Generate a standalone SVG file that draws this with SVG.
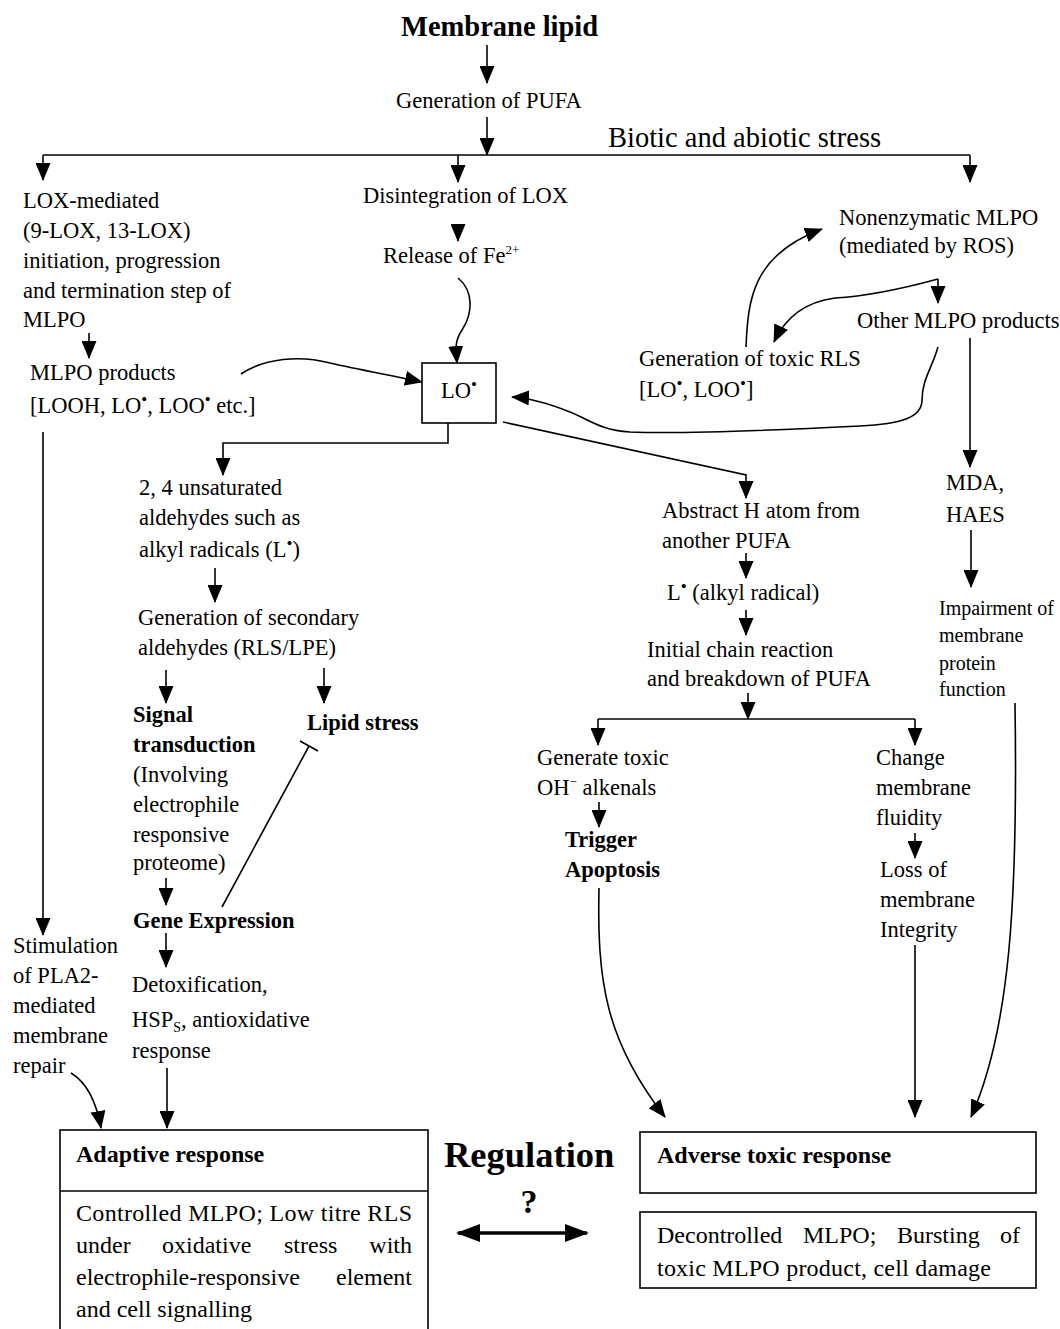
<svg xmlns="http://www.w3.org/2000/svg" width="1060" height="1329" viewBox="0 0 1060 1329">
<defs>
<marker id="ah" markerUnits="userSpaceOnUse" markerWidth="18" markerHeight="15" refX="17" refY="7.5" orient="auto"><path d="M0,0 L18,7.5 L0,15 z" fill="#000"/></marker>
<marker id="ahb" markerUnits="userSpaceOnUse" markerWidth="24" markerHeight="18" refX="22" refY="9" orient="auto-start-reverse"><path d="M0,0 L24,9 L0,18 z" fill="#000"/></marker>
<style>
text{font-family:"Liberation Serif","Times New Roman",serif;fill:#000}
.t{font-size:22.5px}
.b{font-weight:bold}
.s{font-size:20px}
.bx{font-size:24px}
.sup{font-size:13px}
.dot{font-size:17px}
.c{fill:none;stroke:#000;stroke-width:1.6}
.a{marker-end:url(#ah)}
.box{fill:#fff;stroke:#000;stroke-width:1.6}
</style>
</defs>
<rect width="1060" height="1329" fill="#fff"/>

<g id="connectors">
<path class="c a" d="M487,45 V83"/>
<path class="c a" d="M487,117 V155"/>
<path class="c" d="M43,155 H970"/>
<path class="c a" d="M43,155 V180"/>
<path class="c a" d="M458,155 V182"/>
<path class="c a" d="M970,155 V182"/>
<path class="c a" d="M458,224 V241"/>
<path class="c a" d="M458,278 C475,292 472,315 462,330 C454,342 456,350 457,363"/>
<path class="c a" d="M89,333 V358"/>
<path class="c a" d="M241,374 C265,358 300,355 330,363 C360,370 395,376 422,382"/>
<path class="c a" d="M43,432 V935"/>
<path class="c a" d="M448,423 V443 H223 V475"/>
<path class="c a" d="M503,422 L746,475 V498"/>
<path class="c a" d="M746,347 C748,300 752,255 822,229"/>
<path class="c a" d="M938,279 V303"/>
<path class="c a" d="M938,279 C905,288 870,296 835,298 C805,302 785,318 774,342"/>
<path class="c a" d="M970,338 V467"/>
<path class="c a" d="M938,347 C932,368 922,380 922,400 C922,418 900,424 860,426 C780,430 680,434 630,432 C600,430 590,420 570,412 C550,404 530,398 512,397"/>
<path class="c a" d="M215,568 V602"/>
<path class="c a" d="M166,670 V703"/>
<path class="c a" d="M324,668 V703"/>
<path class="c" d="M222,907 L309,746 M300,741 L318,751"/>
<path class="c a" d="M166,878 V905"/>
<path class="c a" d="M166,933 V967"/>
<path class="c a" d="M71,1073 C86,1082 96,1100 101,1128"/>
<path class="c a" d="M167,1068 V1128"/>
<path fill="none" stroke="#000" stroke-width="3.5" marker-start="url(#ahb)" marker-end="url(#ahb)" d="M458,1233 H587"/>
<path class="c a" d="M746,553 V578"/>
<path class="c a" d="M746,610 V635"/>
<path class="c a" d="M748,693 V719"/>
<path class="c" d="M598,719 H915"/>
<path class="c a" d="M598,719 V745"/>
<path class="c a" d="M915,719 V745"/>
<path class="c a" d="M599,802 V827"/>
<path class="c a" d="M915,833 V858"/>
<path class="c a" d="M599,888 C597,980 605,1040 665,1117"/>
<path class="c a" d="M915,945 V1117"/>
<path class="c a" d="M1015,703 C1018,900 1010,1030 971,1117"/>
<path class="c a" d="M971,530 V587"/>
</g>

<g id="membrane-lipid"><text x="401" y="36" font-size="28.5" class="b">Membrane lipid</text></g>
<g id="generation-pufa"><text x="396" y="108" class="t">Generation of PUFA</text></g>
<g id="stress"><text x="608" y="147" font-size="28.5">Biotic and abiotic stress</text></g>

<g id="lox-mediated" class="t">
<text x="23" y="208">LOX-mediated</text>
<text x="23" y="238">(9-LOX, 13-LOX)</text>
<text x="23" y="268">initiation, progression</text>
<text x="23" y="298">and termination step of</text>
<text x="23" y="327">MLPO</text>
</g>
<g id="mlpo-products" class="t">
<text x="30" y="380">MLPO products</text>
<text x="30" y="413">[LOOH, LO<tspan class="dot" dy="-8">•</tspan><tspan dy="8">, LOO</tspan><tspan class="dot" dy="-8">•</tspan><tspan dy="8"> etc.]</tspan></text>
</g>
<g id="disintegration"><text x="363" y="203" class="t">Disintegration of LOX</text></g>
<g id="release-fe"><text x="383" y="263" class="t">Release of Fe<tspan class="sup" dy="-9">2+</tspan></text></g>
<g id="nonenzymatic" class="t">
<text x="839" y="225">Nonenzymatic MLPO</text>
<text x="839" y="253">(mediated by ROS)</text>
</g>
<g id="other-mlpo"><text x="857" y="328" class="t">Other MLPO products</text></g>
<g id="toxic-rls" class="t">
<text x="639" y="366">Generation of toxic RLS</text>
<text x="639" y="397">[LO<tspan class="dot" dy="-8">•</tspan><tspan dy="8">, LOO</tspan><tspan class="dot" dy="-8">•</tspan><tspan dy="8">]</tspan></text>
</g>
<g id="lo-box">
<rect class="box" x="422" y="363" width="74" height="60"/>
<text x="441" y="398" class="t">LO<tspan class="dot" dy="-8">•</tspan></text>
</g>
<g id="unsaturated-aldehydes" class="t">
<text x="139" y="495">2, 4 unsaturated</text>
<text x="139" y="525">aldehydes such as</text>
<text x="139" y="557">alkyl radicals (L<tspan class="dot" dy="-8">•</tspan><tspan dy="8">)</tspan></text>
</g>
<g id="secondary-aldehydes" class="t">
<text x="138" y="625">Generation of secondary</text>
<text x="138" y="655">aldehydes (RLS/LPE)</text>
</g>
<g id="signal-transduction" class="t">
<text x="133" y="722" class="b">Signal</text>
<text x="133" y="752" class="b">transduction</text>
<text x="133" y="782">(Involving</text>
<text x="133" y="812">electrophile</text>
<text x="133" y="842">responsive</text>
<text x="133" y="870">proteome)</text>
</g>
<g id="lipid-stress"><text x="307" y="730" class="t b">Lipid stress</text></g>
<g id="gene-expression"><text x="133" y="928" class="t b">Gene Expression</text></g>
<g id="detoxification" class="t">
<text x="132" y="992">Detoxification,</text>
<text x="132" y="1027">HSP<tspan font-size="14" dy="5">S</tspan><tspan dy="-5">, antioxidative</tspan></text>
<text x="132" y="1058">response</text>
</g>
<g id="stimulation-pla2" class="t">
<text x="13" y="953">Stimulation</text>
<text x="13" y="983">of PLA2-</text>
<text x="13" y="1013">mediated</text>
<text x="13" y="1043">membrane</text>
<text x="13" y="1073">repair</text>
</g>
<g id="abstract-h" class="t">
<text x="662" y="518">Abstract H atom from</text>
<text x="662" y="548">another PUFA</text>
</g>
<g id="alkyl-radical"><text x="667" y="600" class="t">L<tspan class="dot" dy="-8">•</tspan><tspan dy="8"> (alkyl radical)</tspan></text></g>
<g id="chain-reaction" class="t">
<text x="647" y="657">Initial chain reaction</text>
<text x="647" y="686">and breakdown of PUFA</text>
</g>
<g id="generate-toxic" class="t">
<text x="537" y="765">Generate toxic</text>
<text x="537" y="795">OH<tspan class="sup" dy="-9">−</tspan><tspan dy="9"> alkenals</tspan></text>
</g>
<g id="trigger-apoptosis" class="t b">
<text x="565" y="847">Trigger</text>
<text x="565" y="877">Apoptosis</text>
</g>
<g id="change-fluidity" class="t">
<text x="876" y="765">Change</text>
<text x="876" y="795">membrane</text>
<text x="876" y="825">fluidity</text>
</g>
<g id="loss-integrity" class="t">
<text x="880" y="877">Loss of</text>
<text x="880" y="907">membrane</text>
<text x="880" y="937">Integrity</text>
</g>
<g id="mda-haes" class="t">
<text x="946" y="490">MDA,</text>
<text x="946" y="522">HAES</text>
</g>
<g id="impairment" class="s">
<text x="939" y="615">Impairment of</text>
<text x="939" y="642">membrane</text>
<text x="939" y="670">protein</text>
<text x="939" y="696">function</text>
</g>

<g id="adaptive-response">
<rect class="box" x="60" y="1130" width="368" height="210"/>
<path class="c" d="M60,1191 H428"/>
<text x="76" y="1162" class="bx b">Adaptive response</text>
<g class="bx">
<text x="76" y="1221" textLength="336" lengthAdjust="spacing">Controlled MLPO; Low titre RLS</text>
<text x="76" y="1253">under</text>
<text x="162" y="1253">oxidative</text>
<text x="284" y="1253">stress</text>
<text x="412" y="1253" text-anchor="end">with</text>
<text x="76" y="1285">electrophile-responsive</text>
<text x="412" y="1285" text-anchor="end">element</text>
<text x="76" y="1317">and cell signalling</text>
</g>
</g>
<g id="regulation">
<text x="444" y="1167" font-size="36.5" class="b">Regulation</text>
<text x="529" y="1213" font-size="34" class="b" text-anchor="middle">?</text>
</g>
<g id="adverse-toxic">
<rect class="box" x="640" y="1132" width="396" height="61"/>
<text x="657" y="1163" class="bx b">Adverse toxic response</text>
</g>
<g id="decontrolled">
<rect class="box" x="640" y="1212" width="396" height="76"/>
<g class="bx">
<text x="657" y="1243">Decontrolled</text>
<text x="803" y="1243">MLPO;</text>
<text x="897" y="1243">Bursting</text>
<text x="1020" y="1243" text-anchor="end">of</text>
<text x="657" y="1276" textLength="334" lengthAdjust="spacing">toxic MLPO product, cell damage</text>
</g>
</g>
</svg>
